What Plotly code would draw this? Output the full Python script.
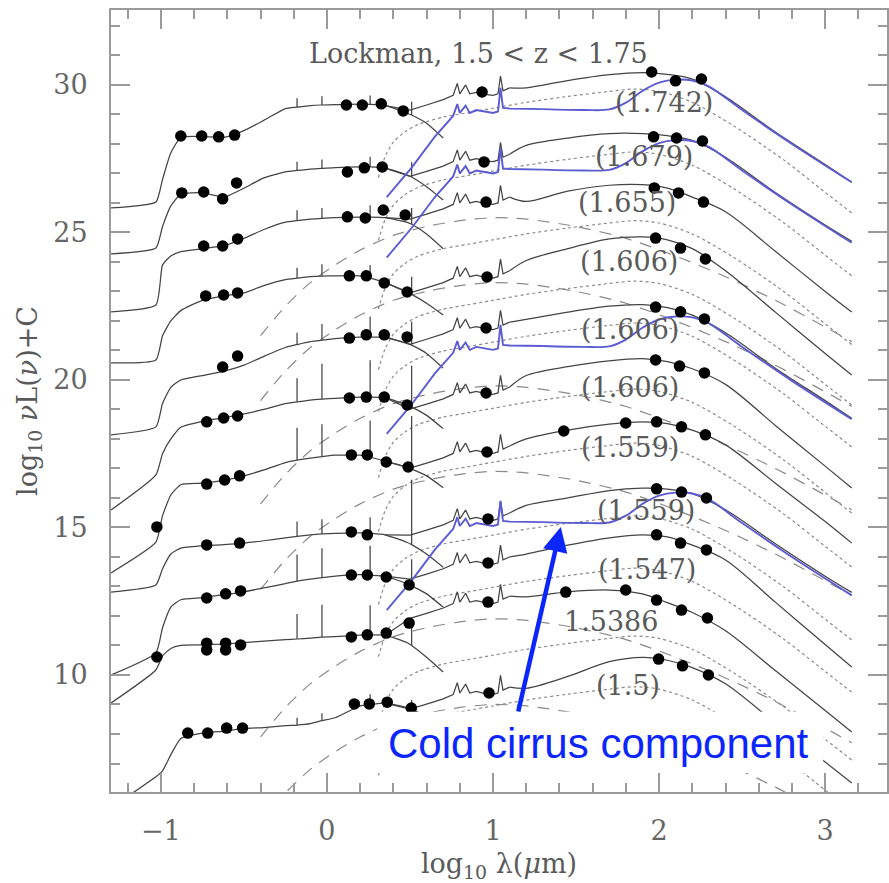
import plotly.graph_objects as go

# ---------------- data ----------------
names = ["(1.742)", "(1.679)", "(1.655)", "(1.606)", "(1.606)", "(1.606)",
         "(1.559)", "(1.559)", "(1.547)", "1.5386", "(1.5)"]

# photometry per galaxy: log10 lambda (rest, micron) and log10 nuL(nu)+C
obs_x = [
    [-0.880, -0.754, -0.652, -0.556, 0.117, 0.213, 0.327, 0.459, 0.934, 1.955, 2.099, 2.255],
    [-0.874, -0.742, -0.628, -0.544, 0.123, 0.225, 0.333, 0.946, 1.967, 2.105, 2.261],
    [-0.742, -0.628, -0.538, 0.123, 0.231, 0.339, 0.471, 0.958, 1.971, 2.117, 2.267],
    [-0.730, -0.622, -0.538, 0.135, 0.237, 0.345, 0.483, 0.964, 1.979, 2.129, 2.279],
    [-0.628, -0.538, 0.135, 0.237, 0.345, 0.483, 0.958, 1.979, 2.129, 2.273],
    [-0.724, -0.622, -0.538, 0.135, 0.237, 0.345, 0.483, 0.958, 1.979, 2.123, 2.273],
    [-1.024, -0.724, -0.616, -0.526, 0.147, 0.243, 0.357, 0.489, 0.964, 1.426, 1.799, 1.985, 2.135, 2.279],
    [-0.724, -0.526, 0.147, 0.243, 0.970, 1.985, 2.135, 2.285],
    [-0.724, -0.610, -0.520, 0.147, 0.243, 0.357, 0.495, 0.970, 1.985, 2.129, 2.285],
    [-1.024, -0.724, -0.610, -0.520, -0.724, -0.610, 0.147, 0.243, 0.357, 0.495, 0.970,
     1.438, 1.799, 1.985, 2.135, 2.291],
    [-0.838, -0.718, -0.604, -0.508, 0.165, 0.255, 0.363, 0.508, 0.976, 1.997, 2.141, 2.297],
]
obs_y = [
    [28.27, 28.27, 28.24, 28.30, 29.32, 29.32, 29.36, 29.12, 29.76, 30.44, 30.14, 30.20],
    [26.34, 26.37, 26.14, 26.68, 27.05, 27.19, 27.22, 27.39, 28.24, 28.20, 28.10],
    [24.54, 24.54, 24.78, 25.53, 25.49, 25.76, 25.59, 26.03, 26.51, 26.34, 26.03],
    [22.85, 22.88, 22.95, 23.53, 23.53, 23.29, 22.98, 23.49, 24.81, 24.47, 24.10],
    [20.44, 20.81, 21.42, 21.53, 21.53, 21.46, 21.76, 22.47, 22.31, 22.07],
    [18.58, 18.71, 18.78, 19.39, 19.42, 19.42, 19.15, 19.56, 20.68, 20.47, 20.24],
    [15.02, 16.47, 16.61, 16.75, 17.46, 17.46, 17.22, 17.05, 17.56, 18.27, 18.54, 18.58, 18.41, 18.14],
    [14.41, 14.47, 14.85, 14.75, 15.29, 16.31, 16.20, 16.00],
    [12.61, 12.75, 12.85, 13.39, 13.39, 13.32, 13.05, 13.80, 14.75, 14.47, 14.24],
    [10.61, 11.08, 11.08, 11.02, 10.85, 10.85, 11.29, 11.36, 11.42, 11.76, 12.47,
     12.81, 12.88, 12.54, 12.20, 11.93],
    [8.03, 8.03, 8.20, 8.20, 9.02, 9.02, 9.08, 8.88, 9.39, 10.54, 10.31, 10.00],
]

# stellar component knots (shared wavelengths, values per galaxy)
stellar_x = [-1.30, -1.03, -0.99, -0.94, -0.88, -0.75, -0.62, -0.50, -0.38, -0.25, -0.18,
             -0.10, -0.03, 0.05, 0.20, 0.26, 0.35, 0.48, 0.51, 0.60, 0.70]
stellar_y = [
    [25.83, 26.03, 26.8, 27.7, 28.22, 28.25, 28.22, 28.45, 28.8, 29.2, 29.25, 29.3, 29.32, 29.33, 29.35, 29.34, 29.3, 29.05, 28.98, 28.7, 28.2],
    [24.27, 24.47, 25.2, 25.9, 26.3, 26.35, 26.2, 26.5, 26.85, 27.05, 27.1, 27.15, 27.17, 27.2, 27.22, 27.22, 27.18, 26.95, 26.88, 26.55, 26.1],
    [22.31, 22.54, 23.9, 24.2, 24.35, 24.45, 24.55, 24.8, 25.1, 25.35, 25.4, 25.45, 25.48, 25.5, 25.52, 25.52, 25.5, 25.35, 25.28, 24.95, 24.45],
    [20.58, 20.68, 21.5, 22.0, 22.35, 22.7, 22.85, 22.95, 23.2, 23.4, 23.45, 23.5, 23.52, 23.53, 23.53, 23.45, 23.3, 22.98, 22.9, 22.6, 22.2],
    [18.14, 18.41, 19.2, 19.75, 20.0, 20.15, 20.3, 20.5, 20.8, 21.1, 21.2, 21.3, 21.35, 21.4, 21.45, 21.45, 21.45, 21.25, 21.18, 20.9, 20.4],
    [15.59, 16.78, 17.5, 18.0, 18.4, 18.6, 18.72, 18.85, 19.0, 19.2, 19.26, 19.32, 19.35, 19.38, 19.42, 19.42, 19.4, 19.15, 19.08, 18.8, 18.35],
    [13.46, 14.5, 15.4, 16.1, 16.45, 16.5, 16.6, 16.75, 16.95, 17.2, 17.28, 17.35, 17.4, 17.45, 17.45, 17.38, 17.25, 17.05, 16.98, 16.75, 16.35],
    [12.81, 13.05, 13.6, 14.1, 14.3, 14.38, 14.42, 14.47, 14.55, 14.65, 14.7, 14.75, 14.78, 14.8, 14.82, 14.8, 14.75, 14.5, 14.42, 14.1, 13.65],
    [10.0, 10.75, 11.6, 12.3, 12.55, 12.62, 12.72, 12.82, 12.95, 13.1, 13.18, 13.25, 13.3, 13.35, 13.4, 13.38, 13.35, 13.1, 13.02, 12.75, 12.3],
    [9.05, 10.17, 10.65, 10.9, 11.0, 11.02, 11.05, 11.1, 11.15, 11.2, 11.22, 11.25, 11.28, 11.3, 11.35, 11.36, 11.35, 11.1, 11.0, 10.6, 10.1],
    [5.5, 6.55, 6.75, 7.3, 7.85, 8.03, 8.1, 8.18, 8.22, 8.28, 8.3, 8.35, 8.45, 8.55, 8.95, 9.0, 9.05, 8.9, 8.85, 8.55, 8.1],
]
# emission-line spikes on the stellar model (at stellar_x = -0.18, -0.03, 0.26, 0.51)
spike_at = [-0.18, -0.03, 0.26, 0.51]
spike_h = [
    [0.3, 0.3, 0.3, 0.45], [0.3, 0.3, 0.35, 0.5], [0.35, 0.35, 0.4, 0.55],
    [0.35, 0.4, 0.45, 0.6], [0.4, 0.55, 0.7, 0.8], [0.8, 1.2, 1.25, 1.4],
    [1.1, 1.1, 1.25, 1.8], [0.5, 0.5, 0.55, 2.2], [0.9, 1.0, 1.0, 0.9],
    [0.85, 1.1, 1.0, 0.6], [0.25, 0.25, 0.35, 0.3],
]

# mid-IR (PAH) shape of the total model, relative to the mid-IR level
pah_x = [0.50, 0.60, 0.70, 0.76, 0.785, 0.80, 0.835, 0.86, 0.90, 0.95, 1.00, 1.03, 1.045, 1.06, 1.10]
pah_dy = [-0.55, -0.38, -0.2, -0.05, 0.35, 0.0, 0.3, 0.0, 0.05, -0.02, -0.05, 0.0, 0.6, 0.1, 0.2]
mir_level = [29.7, 27.45, 26.0, 23.5, 21.76, 19.56, 17.56, 15.29, 13.8, 12.47, 9.39]

# far-IR part of the total model
fir_x = [1.2, 1.45, 1.7, 1.9, 2.05, 2.2, 2.4, 2.7, 3.0, 3.16]
fir_y = [
    [29.9, 30.15, 30.35, 30.42, 30.36, 30.2, 29.6, 28.4, 27.3, 26.7],
    [27.95, 28.2, 28.35, 28.35, 28.28, 28.12, 27.55, 26.35, 25.25, 24.7],
    [26.05, 26.4, 26.6, 26.62, 26.5, 26.2, 25.7, 24.36, 23.0, 22.3],
    [24.05, 24.45, 24.78, 24.85, 24.75, 24.45, 23.7, 22.3, 20.9, 20.17],
    [22.05, 22.3, 22.5, 22.55, 22.45, 22.2, 21.6, 20.4, 19.3, 18.7],
    [20.15, 20.45, 20.65, 20.72, 20.62, 20.38, 19.85, 18.46, 17.08, 16.34],
    [18.0, 18.3, 18.5, 18.58, 18.52, 18.3, 17.8, 16.5, 15.2, 14.47],
    [15.75, 16.0, 16.25, 16.33, 16.3, 16.15, 15.6, 14.45, 13.35, 12.8],
    [14.1, 14.4, 14.65, 14.75, 14.68, 14.4, 13.9, 12.47, 11.03, 10.27],
    [12.65, 12.82, 12.88, 12.75, 12.45, 12.12, 11.5, 10.15, 8.8, 8.07],
    [9.55, 9.95, 10.45, 10.6, 10.5, 10.25, 9.7, 8.37, 7.05, 6.34],
]

# cold cirrus component (blue), drawn for galaxy 1 and shifted by C for the others
cirrus_x = [0.36, 0.51, 0.65, 0.76, 0.785, 0.80, 0.835, 0.86, 0.90, 0.95, 1.00, 1.03, 1.045,
            1.06, 1.10, 1.30, 1.55, 1.70, 1.80, 1.90, 2.00, 2.10, 2.20, 2.30, 2.50, 2.80, 3.16]
cirrus_y = [26.2, 27.2, 28.25, 28.95, 29.35, 29.05, 29.3, 29.05, 29.15, 29.1, 29.05, 29.1, 29.9,
            29.22, 29.2, 29.18, 29.15, 29.17, 29.4, 29.8, 30.08, 30.18, 30.15, 29.95, 29.15, 28.0, 26.7]
cirrus_c = [0.0, -2.05, None, None, -8.03, None, None, -14.0, None, None, None]

# starburst component (dotted), relative to its peak
sb_x = [0.31, 0.35, 0.40, 0.47, 0.55, 0.70, 0.85, 1.00, 1.20, 1.45, 1.70, 1.85,
        2.00, 2.20, 2.45, 2.75, 3.00, 3.16]
sb_dy = [-3.0, -2.3, -1.8, -1.45, -1.2, -0.95, -0.8, -0.65, -0.45, -0.25, -0.08, 0.0,
         -0.08, -0.45, -1.25, -2.4, -3.5, -4.2]
sb_peak = [29.86, 27.73, 25.4, 23.35, 21.93, 19.69, 17.86, 15.39, 13.62, 11.32, 9.6]

# AGN dust component (dashed), relative to its peak
agn_x = [-0.40, -0.25, -0.10, 0.05, 0.20, 0.40, 0.60, 0.80, 1.00, 1.20, 1.50, 1.80, 2.10,
         2.40, 2.70, 3.00, 3.16]
agn_dy = [-4.0, -3.0, -2.2, -1.6, -1.1, -0.6, -0.3, -0.1, 0.0, -0.05, -0.3, -0.7, -1.3,
          -2.0, -2.8, -3.7, -4.2]
agn_peak = [None, None, 25.5, 23.3, None, 19.8, 16.9, None, None, 11.9, 9.0]

# label positions
label_x = [2.027, 1.907, 1.805, 1.817, 1.825, 1.825, 1.825, 1.92, 1.925, 1.709, 1.811]
label_y = [29.39, 27.56, 26.0, 24.0, 21.7, 19.76, 17.7, 15.59, 13.56, 11.8, 9.66]

# ---------------- figure ----------------
GREY = "#444444"
LIGHT = "#8a8a8a"
BLUE_C = "#5b5bd2"
BLUE_T = "#0b26fb"
SERIF = "DejaVu Serif"

fig = go.Figure()
n = len(names)

def add_line(x, y, color, width, dash="solid", shape="linear", smoothing=1.0):
    fig.add_trace(go.Scatter(x=x, y=y, mode="lines", hoverinfo="skip",
                             line=dict(color=color, width=width, dash=dash,
                                       shape=shape, smoothing=smoothing)))

# dotted and dashed components first
for g in range(n):
    add_line(sb_x, [sb_peak[g] + d for d in sb_dy], LIGHT, 1.2, dash="dot",
             shape="spline", smoothing=0.8)
    if agn_peak[g] is not None:
        add_line(agn_x, [agn_peak[g] + d for d in agn_dy], LIGHT, 1.2,
                 dash="12px,9px", shape="spline", smoothing=0.8)

# total model and stellar model
for g in range(n):
    sy = stellar_y[g]
    add_line(stellar_x, sy, GREY, 1.25, shape="spline", smoothing=0.5)
    # spikes
    spx, spy = [], []
    for k, xs in enumerate(spike_at):
        i = stellar_x.index(xs)
        spx += [xs, xs, None]
        spy += [sy[i], sy[i] + spike_h[g][k], None]
    add_line(spx, spy, GREY, 1.25)
    # mid-IR part
    i35 = stellar_x.index(0.35)
    mx = [0.35] + pah_x
    my = [sy[i35]] + [mir_level[g] + d for d in pah_dy]
    add_line(mx, my, GREY, 1.25)
    # far-IR part
    fx = [pah_x[-1]] + fir_x
    fy = [mir_level[g] + pah_dy[-1]] + fir_y[g]
    add_line(fx, fy, GREY, 1.25, shape="spline", smoothing=0.9)

# cold cirrus (blue)
split = cirrus_x.index(1.30)
for g in range(n):
    c = cirrus_c[g]
    if c is None:
        continue
    cy = [v + c for v in cirrus_y]
    add_line(cirrus_x[:split + 1], cy[:split + 1], BLUE_C, 1.9)
    add_line(cirrus_x[split:], cy[split:], BLUE_C, 1.9, shape="spline", smoothing=0.9)

# photometric points
for g in range(n):
    fig.add_trace(go.Scatter(x=obs_x[g], y=obs_y[g], mode="markers", hoverinfo="skip",
                             marker=dict(color="black", size=11.5, line=dict(width=0))))

annotations = []
for g in range(n):
    annotations.append(dict(x=label_x[g], y=label_y[g], xref="x", yref="y", text=names[g],
                            showarrow=False, font=dict(family=SERIF, size=27, color="#5a5a5a")))
annotations.append(dict(x=0.91, y=31.08, xref="x", yref="y",
                        text="Lockman, 1.5 &lt; z &lt; 1.75", showarrow=False,
                        font=dict(family=SERIF, size=27, color="#5a5a5a")))
annotations.append(dict(x=1.637, y=7.69, xref="x", yref="y", text="Cold cirrus component",
                        showarrow=False,
                        font=dict(family="Liberation Sans, Arial", size=42, color=BLUE_T)))
annotations.append(dict(x=1.408, y=15.02, xref="x", yref="y", ax=1.150, ay=8.71,
                        axref="x", ayref="y", text="", showarrow=True, arrowhead=2,
                        arrowsize=1.1, arrowwidth=4.5, arrowcolor=BLUE_T, standoff=0))

fig.update_layout(
    width=889, height=883,
    margin=dict(l=111, r=0, t=10, b=91),
    paper_bgcolor="white", plot_bgcolor="white",
    showlegend=False,
    font=dict(family=SERIF, color="#5a5a5a"),
    annotations=annotations,
    shapes=[dict(type="rect", xref="x", yref="y", x0=0.303, x1=2.988, y0=6.68, y1=8.75,
                 fillcolor="white", line=dict(width=0), layer="above")],
)
axis_common = dict(
    ticks="inside", tickcolor="#9a9a9a", tickwidth=1.6,
    showline=True, linecolor="#9a9a9a", linewidth=2, mirror="allticks",
    showgrid=False, zeroline=False,
    tickfont=dict(family=SERIF, size=27, color="#666666"),
)
fig.update_xaxes(range=[-1.3003, 3.3724], tick0=0, dtick=1, ticklen=19,
                 minor=dict(dtick=0.2, ticks="inside", ticklen=9, tickcolor="#9a9a9a",
                            tickwidth=1.6, showgrid=False),
                 ticklabelstandoff=14,
                 title=dict(text="log<sub>10</sub> λ(<i>μ</i>m)", standoff=14,
                            font=dict(family=SERIF, size=27, color="#5a5a5a")),
                 **axis_common)
fig.update_yaxes(range=[6.034, 32.54], tick0=0, dtick=5, ticklen=19,
                 minor=dict(dtick=1, ticks="inside", ticklen=9, tickcolor="#9a9a9a",
                            tickwidth=1.6, showgrid=False),
                 ticklabelstandoff=16,
                 title=dict(text="log<sub>10</sub> <i>ν</i>L(<i>ν</i>)+C", standoff=8,
                            font=dict(family=SERIF, size=27, color="#5a5a5a")),
                 **axis_common)

fig.write_html("out.html")
